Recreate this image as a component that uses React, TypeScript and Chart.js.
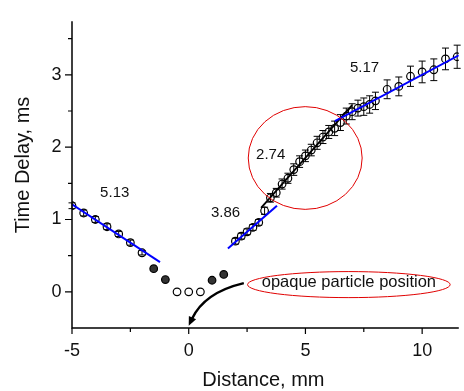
import React, { useEffect, useRef } from 'react';
import { Chart, registerables } from 'chart.js';

Chart.register(...registerables);

// ---------- data ----------
const xTickValues = [-5, 0, 5, 10];
const xMinorTicks = [-2.5, 2.5, 7.5];
const yTickValues = [0, 1, 2, 3];
const yMinorTicks = [0.5, 1.5, 2.5, 3.5];

// left branch (open circles with error bars)
const leftX = [-5, -4.5, -4, -3.5, -3, -2.5, -2];
const leftY = [1.19, 1.09, 1.0, 0.9, 0.8, 0.68, 0.54];
const leftErr = [0.04, 0.04, 0.04, 0.04, 0.035, 0.035, 0.03];

// dark points near the particle
const darkX = [-1.5, -1, 1, 1.5];
const darkY = [0.32, 0.17, 0.16, 0.24];

// zero points
const zeroX = [-0.5, 0, 0.5];
const zeroY = [0, 0, 0];

// right branch
const rightX = [2.0, 2.25, 2.5, 2.75, 3.0, 3.25, 3.5, 3.75, 4.0, 4.25, 4.5, 4.75, 5.0, 5.25, 5.5, 5.75, 6.0, 6.25, 6.5, 6.75, 7.0, 7.25, 7.5, 7.75, 8.0, 8.5, 9.0, 9.5, 10.0, 10.5, 11.0, 11.5];
const rightY = [0.70, 0.77, 0.83, 0.89, 0.96, 1.12, 1.30, 1.37, 1.49, 1.57, 1.69, 1.80, 1.88, 1.96, 2.06, 2.14, 2.21, 2.26, 2.34, 2.43, 2.49, 2.54, 2.56, 2.59, 2.64, 2.80, 2.84, 2.98, 3.04, 3.07, 3.22, 3.25];
const rightErr = [0.04, 0.04, 0.04, 0.04, 0.04, 0.05, 0.06, 0.06, 0.07, 0.07, 0.08, 0.08, 0.08, 0.08, 0.09, 0.09, 0.09, 0.10, 0.11, 0.11, 0.11, 0.11, 0.12, 0.12, 0.12, 0.13, 0.13, 0.14, 0.15, 0.15, 0.15, 0.16];

// fit lines
const fitLeftX = [-5, -1.23];
const fitLeftY = [1.21, 0.41];
const fitMidX = [1.68, 3.78];
const fitMidY = [0.60, 1.19];
const fitBlackX = [3.1, 7.0];
const fitBlackY = [1.16, 2.58];
const fitRightX = [6.26, 11.57];
const fitRightY = [2.36, 3.27];

// slope labels
const slopeLabels = ['5.13', '3.86', '2.74', '5.17'];
const slopeLabelX = [-3.17, 1.58, 3.51, 7.53];
const slopeLabelY = [1.37, 1.09, 1.89, 3.09];

// annotations (data coords)
const circleCenter = [4.99, 1.85];
const circleRadii = [2.44, 0.71];
const noteText = 'opaque particle position';
const noteCenter = [6.86, 0.10];
const noteRadii = [4.34, 0.18];
const arrowStart = [2.36, 0.12];
const arrowCtrl = [0.66, -0.01];
const arrowEnd = [0, -0.47];

const X_MIN = -5;
const X_MAX = 11.57;
const Y_MIN = -0.5;
const Y_MAX = 3.74;

const FONT = '"Liberation Sans", Arial, sans-serif';

const pts = (xs: number[], ys: number[]) => xs.map((x, i) => ({ x, y: ys[i] }));

const overlayPlugin = {
  id: 'overlay',
  beforeDatasetsDraw(chart: any) {
    const { ctx } = chart;
    const xs = chart.scales.x;
    const ys = chart.scales.y;
    ctx.save();
    ctx.strokeStyle = '#000';
    ctx.lineWidth = 1;
    const bars = (X: number[], Y: number[], E: number[]) => {
      X.forEach((xv, i) => {
        const px = xs.getPixelForValue(xv);
        const top = ys.getPixelForValue(Y[i] + E[i]);
        const bot = ys.getPixelForValue(Y[i] - E[i]);
        ctx.beginPath();
        ctx.moveTo(px, top);
        ctx.lineTo(px, bot);
        ctx.moveTo(px - 3.5, top);
        ctx.lineTo(px + 3.5, top);
        ctx.moveTo(px - 3.5, bot);
        ctx.lineTo(px + 3.5, bot);
        ctx.stroke();
      });
    };
    bars(leftX, leftY, leftErr);
    bars(rightX, rightY, rightErr);
    ctx.restore();
  },
  afterDraw(chart: any) {
    const { ctx, chartArea } = chart;
    const xs = chart.scales.x;
    const ys = chart.scales.y;
    const X = (v: number) => xs.getPixelForValue(v);
    const Y = (v: number) => ys.getPixelForValue(v);
    ctx.save();

    // axes
    ctx.strokeStyle = '#000';
    ctx.lineWidth = 1.5;
    ctx.beginPath();
    ctx.moveTo(chartArea.left, chartArea.top);
    ctx.lineTo(chartArea.left, chartArea.bottom);
    ctx.lineTo(chartArea.right, chartArea.bottom);
    ctx.stroke();
    ctx.lineWidth = 1.2;
    ctx.beginPath();
    xTickValues.forEach((v) => {
      const p = X(v);
      ctx.moveTo(p, chartArea.bottom);
      ctx.lineTo(p, chartArea.bottom + 6);
    });
    xMinorTicks.forEach((v) => {
      const p = X(v);
      ctx.moveTo(p, chartArea.bottom);
      ctx.lineTo(p, chartArea.bottom + 4);
    });
    yTickValues.forEach((v) => {
      const p = Y(v);
      ctx.moveTo(chartArea.left, p);
      ctx.lineTo(chartArea.left - 7, p);
    });
    yMinorTicks.forEach((v) => {
      const p = Y(v);
      ctx.moveTo(chartArea.left, p);
      ctx.lineTo(chartArea.left - 4, p);
    });
    ctx.stroke();

    // axis titles
    ctx.fillStyle = '#111';
    ctx.font = `20px ${FONT}`;
    ctx.textAlign = 'center';
    ctx.textBaseline = 'alphabetic';
    ctx.fillText('Distance, mm', (chartArea.left + chartArea.right) / 2 - 2, 386);
    ctx.save();
    ctx.translate(29, 165);
    ctx.rotate(-Math.PI / 2);
    ctx.fillText('Time Delay, ms', 0, 0);
    ctx.restore();

    // slope labels
    ctx.font = `15px ${FONT}`;
    ctx.textBaseline = 'middle';
    slopeLabels.forEach((t, i) => {
      ctx.fillText(t, X(slopeLabelX[i]), Y(slopeLabelY[i]));
    });

    // red circle
    ctx.strokeStyle = '#e00000';
    ctx.lineWidth = 1;
    ctx.beginPath();
    const cx = X(circleCenter[0]);
    const cy = Y(circleCenter[1]);
    const rx = X(circleCenter[0] + circleRadii[0]) - cx;
    const ry = cy - Y(circleCenter[1] + circleRadii[1]);
    ctx.ellipse(cx, cy, rx, ry, 0, 0, Math.PI * 2);
    ctx.stroke();

    // note ellipse
    const nx = X(noteCenter[0]);
    const ny = Y(noteCenter[1]);
    const nrx = X(noteCenter[0] + noteRadii[0]) - nx;
    const nry = ny - Y(noteCenter[1] + noteRadii[1]);
    ctx.beginPath();
    ctx.ellipse(nx, ny, nrx, nry, 0, 0, Math.PI * 2);
    ctx.stroke();
    ctx.fillStyle = '#111';
    ctx.font = `16.5px ${FONT}`;
    ctx.fillText(noteText, nx, ny - 2);

    // arrow
    const sx = X(arrowStart[0]), sy = Y(arrowStart[1]);
    const qx = X(arrowCtrl[0]), qy = Y(arrowCtrl[1]);
    const ex = X(arrowEnd[0]), ey = Y(arrowEnd[1]);
    const ang = Math.atan2(ey - qy, ex - qx);
    const headLen = 9;
    const bx = ex - Math.cos(ang) * headLen * 0.8;
    const by = ey - Math.sin(ang) * headLen * 0.8;
    ctx.strokeStyle = '#000';
    ctx.lineWidth = 2.5;
    ctx.beginPath();
    ctx.moveTo(sx, sy);
    ctx.quadraticCurveTo(qx, qy, bx, by);
    ctx.stroke();
    ctx.fillStyle = '#000';
    ctx.beginPath();
    ctx.moveTo(ex, ey);
    ctx.lineTo(ex - Math.cos(ang) * headLen + Math.sin(ang) * 4, ey - Math.sin(ang) * headLen - Math.cos(ang) * 4);
    ctx.lineTo(ex - Math.cos(ang) * headLen - Math.sin(ang) * 4, ey - Math.sin(ang) * headLen + Math.cos(ang) * 4);
    ctx.closePath();
    ctx.fill();

    ctx.restore();
  },
};

export default function App() {
  const ref = useRef<HTMLCanvasElement | null>(null);
  useEffect(() => {
    if (!ref.current) return;
    const lineDs = (xs: number[], ys: number[], color: string, w: number) => ({
      type: 'line' as const,
      data: pts(xs, ys),
      borderColor: color,
      borderWidth: w,
      pointRadius: 0,
      fill: false,
      order: 0,
    });
    const pointDs = (xs: number[], ys: number[], fillColor: string) => ({
      type: 'scatter' as const,
      data: pts(xs, ys),
      borderColor: '#000',
      backgroundColor: fillColor,
      pointRadius: 3.8,
      pointBorderWidth: 1.2,
      showLine: false,
      order: 1,
    });
    const chart = new Chart(ref.current, {
      type: 'scatter',
      data: {
        datasets: [
          lineDs(fitLeftX, fitLeftY, '#0000ff', 2),
          lineDs(fitMidX, fitMidY, '#0000ff', 2),
          lineDs(fitRightX, fitRightY, '#0000ff', 2),
          lineDs(fitBlackX, fitBlackY, '#000000', 1.8),
          pointDs(leftX, leftY, 'rgba(255,255,255,0)'),
          pointDs(rightX, rightY, 'rgba(255,255,255,0)'),
          pointDs(zeroX, zeroY, 'rgba(255,255,255,0)'),
          pointDs(darkX, darkY, '#333333'),
        ] as any,
      },
      options: {
        animation: false,
        responsive: true,
        maintainAspectRatio: false,
        layout: { padding: { top: 10, right: 2, left: 0, bottom: 0 } },
        plugins: { legend: { display: false }, tooltip: { enabled: false } },
        scales: {
          x: {
            type: 'linear',
            min: X_MIN,
            max: X_MAX,
            grid: { display: false, drawTicks: false },
            border: { display: false },
            ticks: { font: { size: 18, family: FONT }, color: '#111', padding: 12, maxRotation: 0 },
            afterBuildTicks: (s: any) => { s.ticks = xTickValues.map((v) => ({ value: v })); },
            afterFit: (s: any) => { s.height = 63; },
          },
          y: {
            type: 'linear',
            min: Y_MIN,
            max: Y_MAX,
            grid: { display: false, drawTicks: false },
            border: { display: false },
            ticks: { font: { size: 18, family: FONT }, color: '#111', padding: 10.5 },
            afterBuildTicks: (s: any) => { s.ticks = yTickValues.map((v) => ({ value: v })); },
            afterFit: (s: any) => { s.width = 72; },
          },
        },
      },
      plugins: [overlayPlugin],
    });
    return () => chart.destroy();
  }, []);
  return (
    <div style={{ position: 'fixed', left: 0, top: 0, width: 464, height: 391 }}>
      <canvas ref={ref} />
    </div>
  );
}
